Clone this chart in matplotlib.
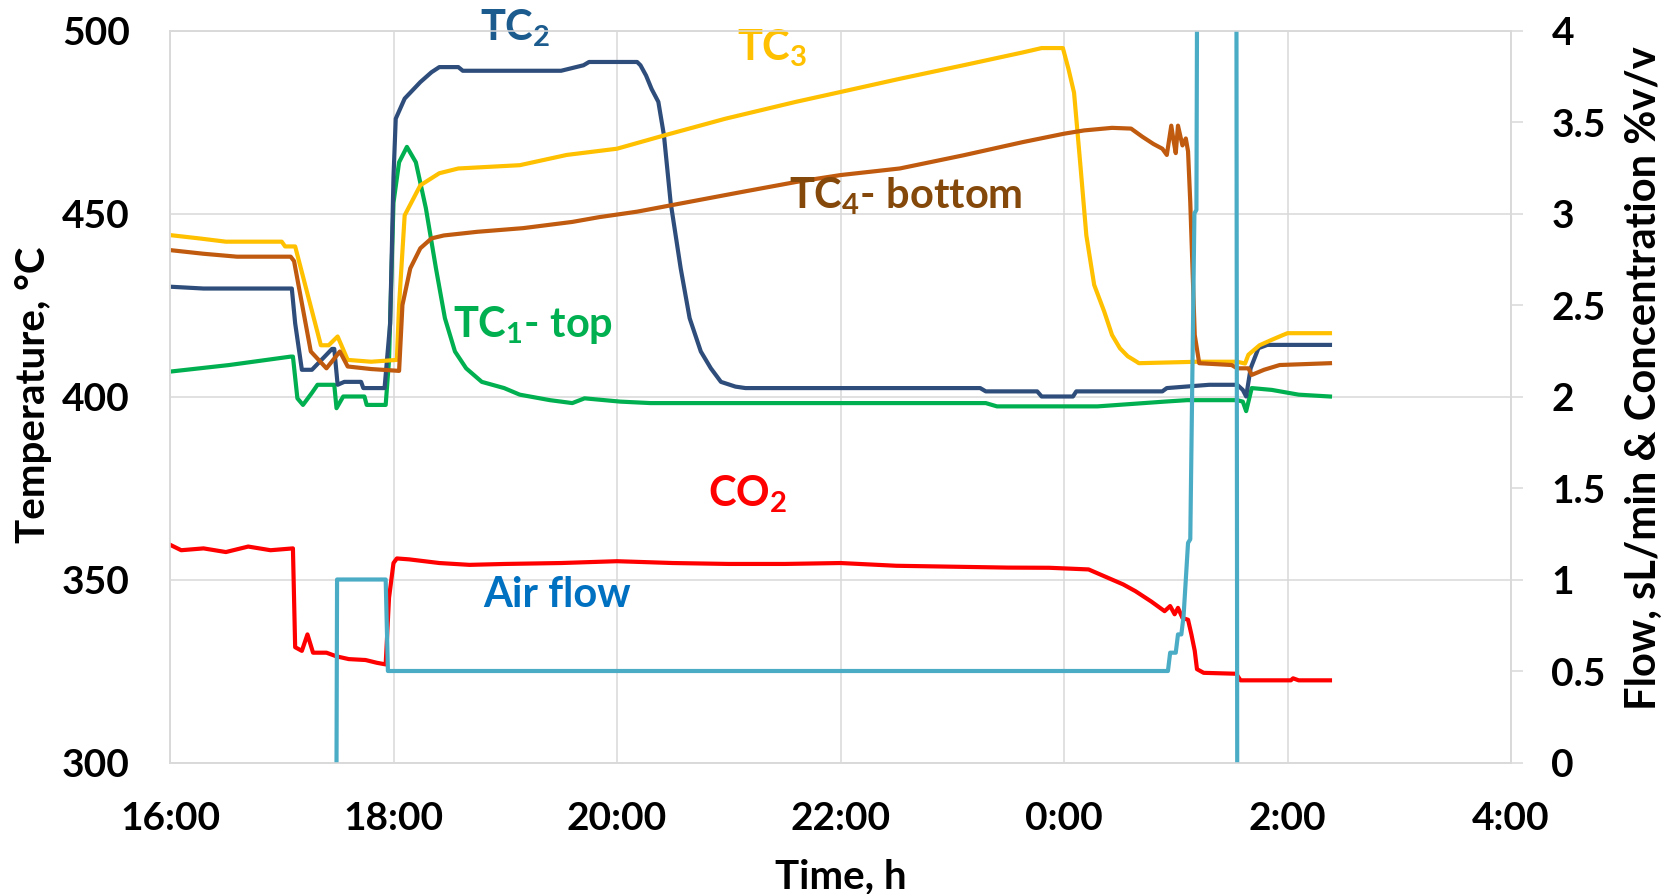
import matplotlib
matplotlib.use("Agg")
import matplotlib.pyplot as plt

# time in hours, after midnight counted as 24+
tc1_t = [16.0, 16.53, 17.08, 17.10, 17.14, 17.19, 17.27, 17.32, 17.47, 17.49, 17.55, 17.74, 17.76,
         17.93, 17.96, 18.0, 18.05, 18.12, 18.2, 18.29, 18.38, 18.46, 18.55, 18.65, 18.79, 18.99,
         19.13, 19.4, 19.6, 19.71, 20.03, 20.3, 23.3, 23.4, 24.3, 24.9, 25.1, 25.55, 25.6, 25.63,
         25.68, 25.86, 26.1, 26.38]
tc1 = [406.8, 408.6, 410.9, 410.9, 399.5, 397.7, 401.0, 403.2, 403.2, 396.8, 400.0, 400.0, 397.7,
       397.7, 410.0, 453.0, 464.0, 468.2, 464.0, 451.4, 435.0, 421.4, 412.3, 407.7, 404.0, 402.3,
       400.5, 399.0, 398.2, 399.5, 398.6, 398.2, 398.2, 397.3, 397.3, 398.6, 399.0, 399.0, 398.6, 396.0,
       402.3, 401.8, 400.5, 400.0]

tc2_t = [16.0, 16.3, 17.09, 17.12, 17.18, 17.27, 17.45, 17.47, 17.50, 17.56, 17.71, 17.73, 17.92,
         17.97, 18.0, 18.02, 18.1, 18.24, 18.34, 18.41, 18.58, 18.62, 19.5, 19.7, 19.75, 20.18, 20.21,
         20.26, 20.31, 20.37, 20.42, 20.48, 20.57, 20.65, 20.75, 20.84, 20.93, 21.06, 21.15, 23.25,
         23.3, 23.76, 23.8, 24.08, 24.11, 24.88, 24.92, 25.3, 25.55, 25.6, 25.63, 25.67, 25.74, 25.82,
         26.38]
tc2 = [430.0, 429.5, 429.5, 420.0, 407.3, 407.3, 413.0, 413.0, 403.2, 404.0, 404.0, 402.3, 402.3,
       420.0, 460.0, 475.9, 481.4, 485.9, 488.6, 490.0, 490.0, 489.0, 489.0, 490.5, 491.4, 491.4, 490.5,
       487.7, 484.0, 480.5, 471.4, 453.0, 435.0, 421.4, 412.3, 407.7, 404.0, 402.7, 402.3, 402.3,
       401.4, 401.4, 400.0, 400.0, 401.4, 401.4, 402.3, 403.2, 403.2, 401.8, 400.0, 407.7, 413.2, 414.1,
       414.1]

tc3_t = [16.0, 16.26, 16.5, 17.0, 17.03, 17.12, 17.35, 17.42, 17.5, 17.59, 17.8, 18.03, 18.05, 18.1,
         18.24, 18.41, 18.58, 19.13, 19.55, 20.0, 20.43, 20.97, 21.6, 22.0, 22.53, 23.1, 23.63, 23.8,
         23.99, 24.04, 24.09, 24.15, 24.2, 24.27, 24.36, 24.43, 24.5, 24.57, 24.65, 24.67, 25.2, 25.55,
         25.62, 25.65, 25.75, 25.86, 25.96, 26.0, 26.38]
tc3 = [444.1, 443.2, 442.3, 442.3, 441.0, 441.0, 414.0, 414.0, 416.4, 410.0, 409.5, 410.0, 425.0, 449.5,
       457.7, 461.0, 462.3, 463.2, 466.0, 467.7, 471.4, 475.9, 480.5, 483.2, 486.8, 490.5, 494.0, 495.2,
       495.2, 489.5, 483.0, 462.0, 444.0, 430.5, 423.2, 416.8, 413.2, 411.0, 409.5, 409.1, 409.5, 409.5,
       409.0, 411.4, 414.0, 415.5, 416.8, 417.3, 417.3]

tc4_t = [16.0, 16.3, 16.6, 17.08, 17.11, 17.26, 17.4, 17.52, 17.59, 17.8, 18.05, 18.08, 18.15, 18.24,
         18.34, 18.45, 18.75, 19.16, 19.6, 19.84, 20.18, 20.65, 21.12, 21.6, 22.0, 22.53, 23.1, 23.63,
         24.0, 24.18, 24.43, 24.6, 24.7, 24.8, 24.88, 24.92, 24.96, 24.98, 25.0, 25.02, 25.06, 25.09,
         25.11, 25.13, 25.17, 25.21, 25.5, 25.55, 25.65, 25.68, 25.79, 25.93, 26.38]
tc4 = [440.0, 439.0, 438.2, 438.2, 437.0, 412.3, 407.7, 412.3, 408.2, 407.5, 407.0, 425.0, 435.0, 440.5,
       443.2, 444.0, 445.0, 446.0, 447.7, 449.0, 450.5, 453.2, 455.9, 458.6, 460.5, 462.3, 465.9, 469.5,
       471.8, 472.7, 473.4, 473.2, 471.0, 469.0, 467.7, 466.0, 474.0, 470.0, 466.5, 474.0, 468.6, 470.5,
       467.0, 453.0, 416.8, 409.1, 408.6, 407.7, 407.7, 405.9, 407.3, 408.6, 409.1]

# right axis: flow sL/min and CO2 %v/v
co2_t = [16.0, 16.1, 16.3, 16.5, 16.7, 16.9, 17.1, 17.12, 17.18, 17.23, 17.28, 17.4, 17.49, 17.6, 17.75,
         17.85, 17.93, 17.96, 18.0, 18.03, 18.14, 18.41, 18.68, 19.0, 19.5, 20.0, 20.5, 21.0, 21.5, 22.0,
         22.5, 23.0, 23.5, 23.87, 24.22, 24.39, 24.53, 24.64, 24.78, 24.9, 24.95, 24.99, 25.02, 25.06,
         25.11, 25.14, 25.17, 25.19, 25.25, 25.54, 25.58, 26.03, 26.05, 26.1, 26.38]
co2 = [1.19, 1.16, 1.17, 1.15, 1.18, 1.16, 1.17, 0.63, 0.61, 0.70, 0.60, 0.60, 0.58, 0.565, 0.56,
       0.545, 0.536, 0.90, 1.09, 1.115, 1.11, 1.09, 1.08, 1.085, 1.09, 1.10, 1.09, 1.085, 1.085, 1.09,
       1.075, 1.07, 1.065, 1.064, 1.055, 1.01, 0.973, 0.936, 0.88, 0.827, 0.855, 0.81, 0.845, 0.79,
       0.78, 0.70, 0.61, 0.51, 0.49, 0.485, 0.449, 0.449, 0.46, 0.449, 0.449]

air_t = [17.49, 17.495, 17.93, 17.95, 24.93, 24.95, 25.0, 25.02, 25.05, 25.07, 25.11, 25.13, 25.167,
         25.185, 25.2, 25.54, 25.55]
air = [0.0, 1.0, 1.0, 0.5, 0.5, 0.6, 0.6, 0.7, 0.7, 0.8, 1.2, 1.22, 3.0, 3.02, 6.0, 6.0, 0.0]

x_ticks = [16, 18, 20, 22, 24, 26, 28]
x_labels = ["16:00", "18:00", "20:00", "22:00", "0:00", "2:00", "4:00"]

plt.rcParams["font.family"] = ["Lato", "DejaVu Sans"]
plt.rcParams["font.weight"] = "bold"
plt.rcParams["axes.labelweight"] = "bold"
plt.rcParams["mathtext.fontset"] = "custom"
plt.rcParams["mathtext.rm"] = "Lato:bold"
plt.rcParams["mathtext.it"] = "Lato:bold"
plt.rcParams["mathtext.bf"] = "Lato:bold"

grid_c = "#D9D9D9"
fs_tick = 28
fs_note = 30

fig = plt.figure(figsize=(16.63, 8.94), dpi=100)
ax = fig.add_axes([170 / 1663, 1 - 762.5 / 894, 1341 / 1663, 732 / 894])
ax2 = ax.twinx()

lw = 3.0
ax.plot(tc1_t, tc1, color="#00B050", lw=lw)
ax.plot(tc2_t, tc2, color="#2E4D7B", lw=lw)
ax.plot(tc3_t, tc3, color="#FFC000", lw=lw)
ax.plot(tc4_t, tc4, color="#C05A0E", lw=lw)
ax2.plot(co2_t, co2, color="#FF0000", lw=lw)
ax2.plot(air_t, air, color="#4BACC6", lw=lw)

ax.set_xlim(16, 28)
ax.set_ylim(300, 500)
ax2.set_ylim(0, 4)
ax.set_xticks(x_ticks)
ax.set_xticklabels(x_labels, fontweight="bold")
ax.set_yticks([300, 350, 400, 450, 500])
ax.set_yticklabels(["300", "350", "400", "450", "500"], fontweight="bold")
ax2.set_yticks([0, 0.5, 1, 1.5, 2, 2.5, 3, 3.5, 4])
ax2.set_yticklabels(["0", "0.5", "1", "1.5", "2", "2.5", "3", "3.5", "4"], fontweight="bold")

ax.grid(True, color=grid_c, lw=1.1)
ax.set_axisbelow(True)
for a in (ax, ax2):
    for s in a.spines.values():
        s.set_color(grid_c)
        s.set_linewidth(1.1)

ax.tick_params(axis="x", length=0, pad=28, labelsize=fs_tick)
ax.tick_params(axis="y", length=0, pad=29, labelsize=fs_tick)
ax2.tick_params(axis="y", length=8.6, width=1.1, color=grid_c, pad=20.5, labelsize=fs_tick)

ax.set_xlabel("Time, h", fontsize=29, fontweight="bold", va="baseline")
ax.xaxis.set_label_coords(0.5004, (762.5 - 888) / 732)
ax.set_ylabel("Temperature, °C", fontsize=29, fontweight="bold", va="center", ha="center",
              rotation_mode="default")
ax.yaxis.set_label_coords((34 - 170) / 1341, (762.5 - 395) / 732)
ax2.set_ylabel("Flow, sL/min & Concentration %v/v", fontsize=30, fontweight="bold",
               va="center", ha="center", rotation=90, rotation_mode="default")
ax2.yaxis.set_label_coords((1644 - 170) / 1341, (762.5 - 378) / 732)

ax.text(18.774, 497.4, r"TC$_{2}$", color="#1B5B8E", fontsize=fs_note, fontweight="bold", va="baseline")
ax.text(21.07, 491.9, r"TC$_{3}$", color="#FFC000", fontsize=fs_note, fontweight="bold", va="baseline")
ax.text(21.54, 451.4, r"TC$_{4}$- bottom", color="#84480A", fontsize=fs_note, fontweight="bold", va="baseline")
ax.text(18.535, 416.3, r"TC$_{1}$- top", color="#00B050", fontsize=fs_note, fontweight="bold", va="baseline")
ax.text(20.814, 370.1, r"CO$_{2}$", color="#FF0000", fontsize=fs_note, fontweight="bold", va="baseline")
ax.text(18.804, 342.4, "Air flow", color="#0070C0", fontsize=fs_note, fontweight="bold", va="baseline")

fig.savefig("out.png", dpi=100)
